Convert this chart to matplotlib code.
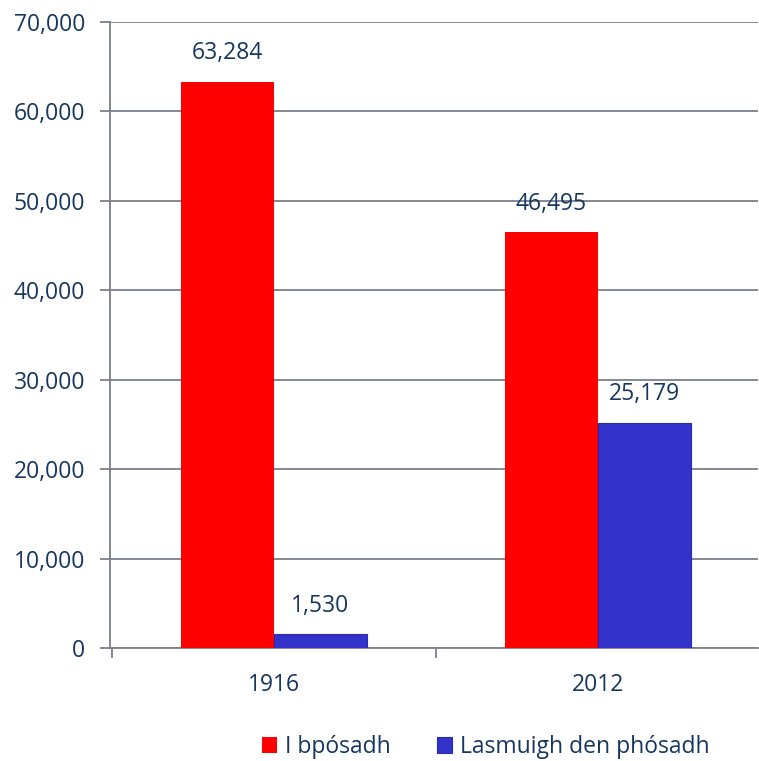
import matplotlib
matplotlib.use("Agg")
import matplotlib.pyplot as plt
import numpy as np

years = ["1916", "2012"]
married = [63284, 46495]
outside = [1530, 25179]
series_names = ["I bpósadh", "Lasmuigh den phósadh"]

txt = "#17375E"
grid_col = "#7A7F8A"
plt.rcParams["font.family"] = ["Open Sans", "DejaVu Sans"]
fs = 16.5

fig = plt.figure(figsize=(7.59, 7.61), dpi=100)
ax = fig.add_axes([110/759, 1-648/761, 648/759, 626/761])

x = np.arange(len(years))
w = 0.287
b1 = ax.bar(x - w/2, married, w, color="#FF0000", zorder=3)
b2 = ax.bar(x + w/2, outside, w, color="#3333CC", edgecolor="#2A2AB0", linewidth=0.8, zorder=3)

for bars in (b1, b2):
    for r in bars:
        v = r.get_height()
        ax.annotate(f"{v:,.0f}", (r.get_x() + r.get_width()/2, v), xytext=(0, 12),
                    textcoords="offset points", ha="center", va="bottom",
                    color=txt, fontsize=fs, zorder=5)

ax.set_xlim(-0.506, 1.494)
ax.set_ylim(0, 70000)
ax.set_yticks(range(0, 70001, 10000))
ax.set_yticklabels([f"{v:,}" for v in range(0, 70001, 10000)], color=txt, fontsize=fs)
ax.yaxis.grid(True, color=grid_col, linewidth=1.3, zorder=0)
ax.set_xticks([-0.5, 0.5])
ax.set_xticklabels([])
ax.set_xticks(x, minor=True)
ax.set_xticklabels(years, minor=True, color=txt, fontsize=fs)
ax.tick_params(axis="x", which="minor", length=0, pad=18)
ax.tick_params(axis="x", which="major", length=7, color=grid_col, width=1.3)
ax.tick_params(axis="y", length=7, color=grid_col, width=1.3, pad=11)
for s in ["top", "right"]:
    ax.spines[s].set_visible(False)
for s in ["left", "bottom"]:
    ax.spines[s].set_color(grid_col)
    ax.spines[s].set_linewidth(1.3)

leg = fig.legend([b1, b2], series_names, loc="center", bbox_to_anchor=(486/759, 1-747/761),
                 ncol=2, frameon=False, fontsize=fs, labelcolor=txt,
                 handlelength=0.65, handleheight=0.65, handletextpad=0.35, columnspacing=2.0)

fig.savefig("out.png", dpi=100)
